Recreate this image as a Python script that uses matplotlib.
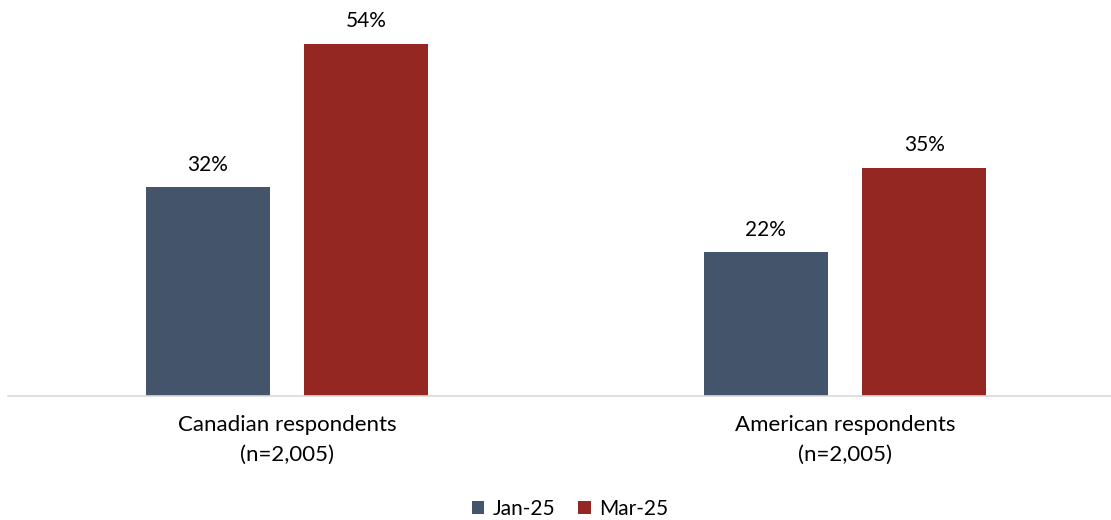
import matplotlib.pyplot as plt
import numpy as np

categories = ["Canadian respondents\n(n=2,005)", "American respondents\n(n=2,005)"]
series_names = ["Jan-25", "Mar-25"]
jan_values = [32, 22]
mar_values = [54, 35]

colors = ["#44546A", "#952722"]

plt.rcParams['font.family'] = ['Lato', 'DejaVu Sans']

fig = plt.figure(figsize=(11.11, 5.2), dpi=100)
# axes spans from x=8px to 1124px, baseline at y=396px
ax = fig.add_axes([8 / 1111, 124 / 520, 1116 / 1111, 396 / 520])
ax.patch.set_alpha(0)

x = np.arange(len(categories))
width = 0.222
offset = 0.142

bars1 = ax.bar(x - offset, jan_values, width, color=colors[0], label=series_names[0])
bars2 = ax.bar(x + offset, mar_values, width, color=colors[1], label=series_names[1])

for bars in (bars1, bars2):
    for b in bars:
        ax.annotate(f"{b.get_height():.0f}%", (b.get_x() + b.get_width() / 2, b.get_height()),
                    xytext=(0, 9), textcoords="offset points", ha="center", va="bottom",
                    fontsize=15, color="#000000")

ax.set_xlim(-0.5, 1.5)
ax.set_ylim(0, 60.7)
ax.set_yticks([])
ax.set_xticks(x)
ax.set_xticklabels(categories, fontsize=16, linespacing=1.6)
ax.tick_params(axis="x", length=0, pad=14)
for s in ["top", "right", "left"]:
    ax.spines[s].set_visible(False)
ax.spines["bottom"].set_color("#D9D9D9")
ax.spines["bottom"].set_linewidth(1.2)

fig.legend(handles=[bars1, bars2], labels=series_names, loc="center", bbox_to_anchor=(570 / 1111, 1 - 509 / 520),
           ncol=2, frameon=False, fontsize=15, handlelength=0.6, handleheight=0.6, handletextpad=0.4,
           columnspacing=1.1)

fig.savefig("out.png", dpi=100)
